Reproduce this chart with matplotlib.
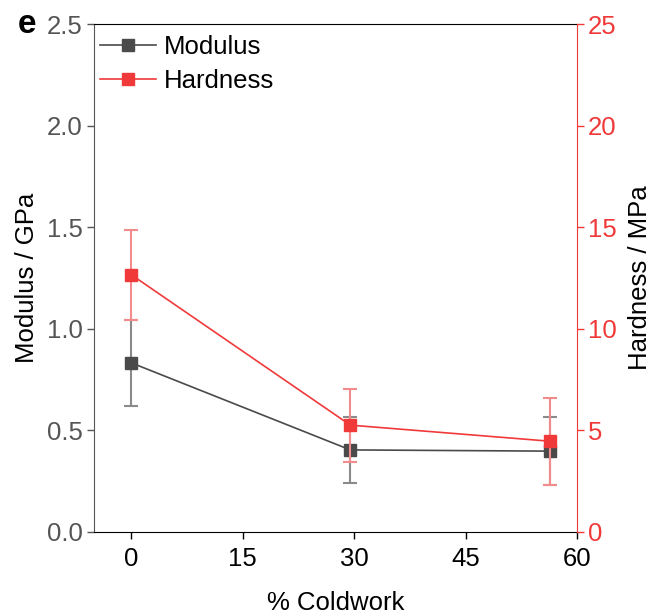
import matplotlib
matplotlib.use("Agg")
import matplotlib.pyplot as plt
from matplotlib.lines import Line2D

plt.rcParams['font.family'] = ['Liberation Sans', 'DejaVu Sans']

coldwork = [0, 29.5, 56.3]
modulus = [0.833, 0.404, 0.398]
modulus_err = [0.213, 0.163, 0.166]
hardness = [12.67, 5.26, 4.47]
hardness_err = [2.22, 1.80, 2.15]

gray = '#4a4a4a'
red = '#f03a3a'

fig = plt.figure(figsize=(6.62, 6.14), dpi=100)
ax = fig.add_axes([0.142, 0.1336, 0.7296, 0.827])
ax2 = ax.twinx()

ax.errorbar(coldwork, modulus, yerr=modulus_err, color=gray, marker='s', ms=9,
            lw=1.2, ecolor='#8a8a8a', elinewidth=1.5, capsize=5, capthick=1.5,
            zorder=3)
ax2.errorbar(coldwork, hardness, yerr=hardness_err, color=red, marker='s', ms=9,
             lw=1.2, ecolor='#f28c8c', elinewidth=1.5, capsize=5, capthick=1.5,
             zorder=3)

ax.set_xlim(-5, 60)
ax.set_ylim(0, 2.5)
ax2.set_ylim(0, 25)
ax.set_xticks([0, 15, 30, 45, 60])
ax.set_yticks([0, 0.5, 1.0, 1.5, 2.0, 2.5])
ax2.set_yticks([0, 5, 10, 15, 20, 25])

fs = 18.5
ax.tick_params(axis='x', labelsize=fs, colors='black', length=5, width=1, pad=6)
ax.tick_params(axis='y', labelsize=fs, colors='#555555', length=5, width=1, pad=3)
ax2.tick_params(axis='y', labelsize=fs, colors=red, length=5, width=1, pad=3)
ax.yaxis.set_major_formatter(matplotlib.ticker.FormatStrFormatter('%.1f'))

ax.spines['left'].set_color('#555555')
ax2.spines['left'].set_visible(False)
ax2.spines['right'].set_color(red)
ax.spines['right'].set_visible(False)
for s in ['top', 'bottom']:
    ax2.spines[s].set_visible(False)
    ax.spines[s].set_color('black')

ax.set_xlabel('% Coldwork', fontsize=fs, labelpad=14)
ax.set_ylabel('Modulus / GPa', fontsize=fs, labelpad=6)
ax2.set_ylabel('Hardness / MPa', fontsize=fs, labelpad=8)

handles = [Line2D([], [], color=gray, marker='s', ms=9, lw=1.2),
           Line2D([], [], color=red, marker='s', ms=9, lw=1.2)]
ax2.legend(handles, ['Modulus', 'Hardness'], loc='upper left', frameon=False,
           fontsize=fs, handlelength=2.2, handletextpad=0.3,
           bbox_to_anchor=(0.0, 0.99), borderaxespad=0.1, labelspacing=0.38,
           borderpad=0.12)

fig.text(0.027, 0.96, 'e', fontsize=24, fontweight='bold', va='center')

fig.savefig('out.png', dpi=100)
